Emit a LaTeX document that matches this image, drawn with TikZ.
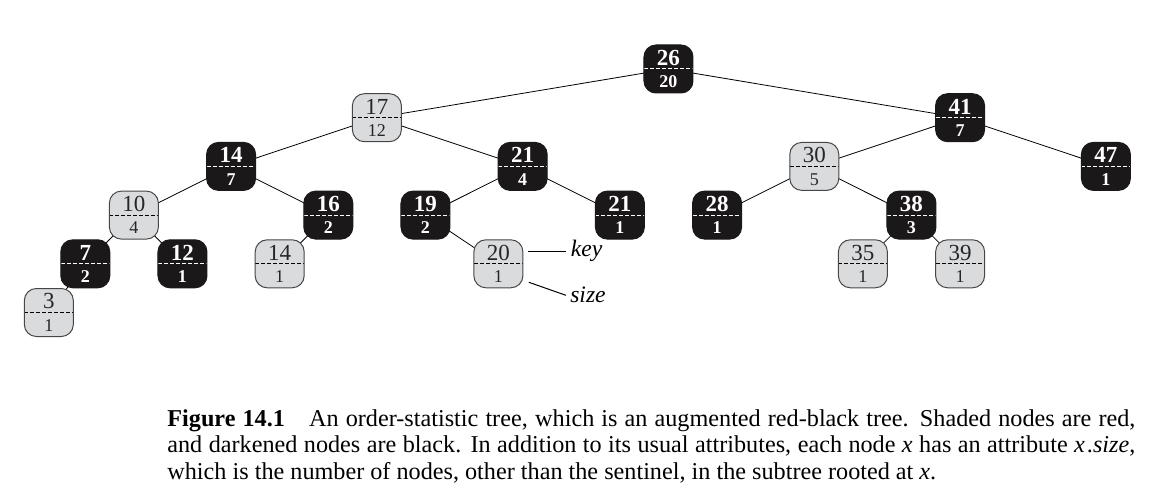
\documentclass[tikz,border=0pt]{standalone}
\usepackage{fontspec}
\setmainfont{Liberation Serif}
\usepackage{tikz}
\usetikzlibrary{backgrounds}
\usepackage{xcolor}
\definecolor{redfill}{RGB}{218,219,221}
\definecolor{blkfill}{RGB}{26,24,25}
\definecolor{redline}{RGB}{70,70,70}

\begin{document}
\begin{tikzpicture}[x=24.3pt, y=24.35pt,
    blk/.style={rectangle, rounded corners=6pt, fill=blkfill, draw=blkfill, line width=0.5pt,
      minimum width=24.5pt, minimum height=24pt, inner sep=0pt,
      path picture={\draw[white, line width=0.5pt, dash pattern=on 2pt off 1pt]
        (path picture bounding box.west) -- (path picture bounding box.east);}},
    red/.style={rectangle, rounded corners=6pt, fill=redfill, draw=redline, line width=0.5pt,
      minimum width=24.5pt, minimum height=24pt, inner sep=0pt,
      path picture={\draw[black, line width=0.5pt, dash pattern=on 2pt off 1pt]
        (path picture bounding box.west) -- (path picture bounding box.east);}},
    keyw/.style={anchor=base, yshift=1.8pt, inner sep=0pt, text=white,
      font=\fontsize{11.5pt}{12pt}\selectfont\bfseries},
    keyk/.style={anchor=base, yshift=1.8pt, inner sep=0pt, text=black!85,
      font=\fontsize{11.5pt}{12pt}\selectfont},
    sizew/.style={anchor=base, yshift=-9.3pt, inner sep=0pt, text=white,
      font=\fontsize{9pt}{10pt}\selectfont\bfseries},
    sizek/.style={anchor=base, yshift=-9.3pt, inner sep=0pt, text=black!85,
      font=\fontsize{9pt}{10pt}\selectfont},
    lbl/.style={anchor=west, inner sep=2pt, font=\fontsize{11.8pt}{13pt}\selectfont\itshape},
    capline/.style={anchor=base west, inner sep=0pt, font=\fontsize{12.1pt}{13.3pt}\selectfont}]
    \useasboundingbox (-334.25pt,34.5pt) rectangle (241.75pt,-217pt);

    % level 0 and 1
    \node[blk] (n26) at (0,0) {};
    \node[keyw] (k26) at (n26) {26};
    \node[sizew] (s26) at (n26) {20};
    \node[red] (n17) at (-6,-1) {};
    \node[keyk] (k17) at (n17) {17};
    \node[sizek] (s17) at (n17) {12};
    \node[blk] (n41) at (6,-1) {};
    \node[keyw] (k41) at (n41) {41};
    \node[sizew] (s41) at (n41) {7};

    % level 2
    \node[blk] (n14) at (-9,-2) {};
    \node[keyw] (k14) at (n14) {14};
    \node[sizew] (s14) at (n14) {7};
    \node[blk] (n21) at (-3,-2) {};
    \node[keyw] (k21) at (n21) {21};
    \node[sizew] (s21) at (n21) {4};
    \node[red] (n30) at (3,-2) {};
    \node[keyk] (k30) at (n30) {30};
    \node[sizek] (s30) at (n30) {5};
    \node[blk] (n47) at (9,-2) {};
    \node[keyw] (k47) at (n47) {47};
    \node[sizew] (s47) at (n47) {1};

    % level 3
    \node[red] (n10) at (-11,-3) {};
    \node[keyk] (k10) at (n10) {10};
    \node[sizek] (s10) at (n10) {4};
    \node[blk] (n16) at (-7,-3) {};
    \node[keyw] (k16) at (n16) {16};
    \node[sizew] (s16) at (n16) {2};
    \node[blk] (n19) at (-5,-3) {};
    \node[keyw] (k19) at (n19) {19};
    \node[sizew] (s19) at (n19) {2};
    \node[blk] (n21b) at (-1,-3) {};
    \node[keyw] (k21b) at (n21b) {21};
    \node[sizew] (s21b) at (n21b) {1};
    \node[blk] (n28) at (1,-3) {};
    \node[keyw] (k28) at (n28) {28};
    \node[sizew] (s28) at (n28) {1};
    \node[blk] (n38) at (5,-3) {};
    \node[keyw] (k38) at (n38) {38};
    \node[sizew] (s38) at (n38) {3};

    % level 4
    \node[blk] (n7) at (-12,-4) {};
    \node[keyw] (k7) at (n7) {7};
    \node[sizew] (s7) at (n7) {2};
    \node[blk] (n12) at (-10,-4) {};
    \node[keyw] (k12) at (n12) {12};
    \node[sizew] (s12) at (n12) {1};
    \node[red] (n14b) at (-8,-4) {};
    \node[keyk] (k14b) at (n14b) {14};
    \node[sizek] (s14b) at (n14b) {1};
    \node[red] (n20) at (-3.5,-4) {};
    \node[keyk] (k20) at (n20) {20};
    \node[sizek] (s20) at (n20) {1};
    \node[red] (n35) at (4,-4) {};
    \node[keyk] (k35) at (n35) {35};
    \node[sizek] (s35) at (n35) {1};
    \node[red] (n39) at (6,-4) {};
    \node[keyk] (k39) at (n39) {39};
    \node[sizek] (s39) at (n39) {1};

    % level 5
    \node[red] (n3) at (-12.75,-5) {};
    \node[keyk] (k3) at (n3) {3};
    \node[sizek] (s3) at (n3) {1};

    \begin{scope}[on background layer, line width=0.5pt]
      \draw (n26.center) -- (n17.center) (n26.center) -- (n41.center);
      \draw (n17.center) -- (n14.center) (n17.center) -- (n21.center);
      \draw (n41.center) -- (n30.center) (n41.center) -- (n47.center);
      \draw (n14.center) -- (n10.center) (n14.center) -- (n16.center);
      \draw (n21.center) -- (n19.center) (n21.center) -- (n21b.center);
      \draw (n30.center) -- (n28.center) (n30.center) -- (n38.center);
      \draw (n10.center) -- (n7.center) (n10.center) -- (n12.center);
      \draw (n16.center) -- (n14b.center) (n19.center) -- (n20.center);
      \draw (n38.center) -- (n35.center) (n38.center) -- (n39.center);
      \draw (n7.center) -- (n3.center);
    \end{scope}

    % labels for the fields
    \coordinate (keyA) at ([shift={(2.5pt,6.25pt)}]n20.east);
    \coordinate (keyB) at ([shift={(21.5pt,6.25pt)}]n20.east);
    \coordinate (sizeA) at ([shift={(15.25pt,-9.25pt)}]n20.center);
    \coordinate (sizeB) at ([shift={(33.75pt,-15.75pt)}]n20.center);
    \draw[line width=0.5pt] (keyA) -- (keyB);
    \draw[line width=0.5pt] (sizeA) -- (sizeB);
    \node[lbl] (keytxt) at (keyB) {key};
    \node[lbl] (sizetxt) at (sizeB) {size};

    % caption
    \node[capline] (cap1) at (-250.75pt,-178.5pt)
      {\makebox[484pt][s]{\textbf{Figure 14.1}\hspace{1em}An order-statistic tree, which is an augmented red-black tree. Shaded nodes are red,}};
    \node[capline] (cap2) at (-250.75pt,-191.8pt)
      {\makebox[484pt][s]{and darkened nodes are black. In addition to its usual attributes, each node \textit{x} has an attribute \textit{x}\kern1pt.\textit{size},}};
    \node[capline] (cap3) at (-250.75pt,-205.1pt)
      {which is the number of nodes, other than the sentinel, in the subtree rooted at \textit{x}.};
  \end{tikzpicture}
\end{document}
